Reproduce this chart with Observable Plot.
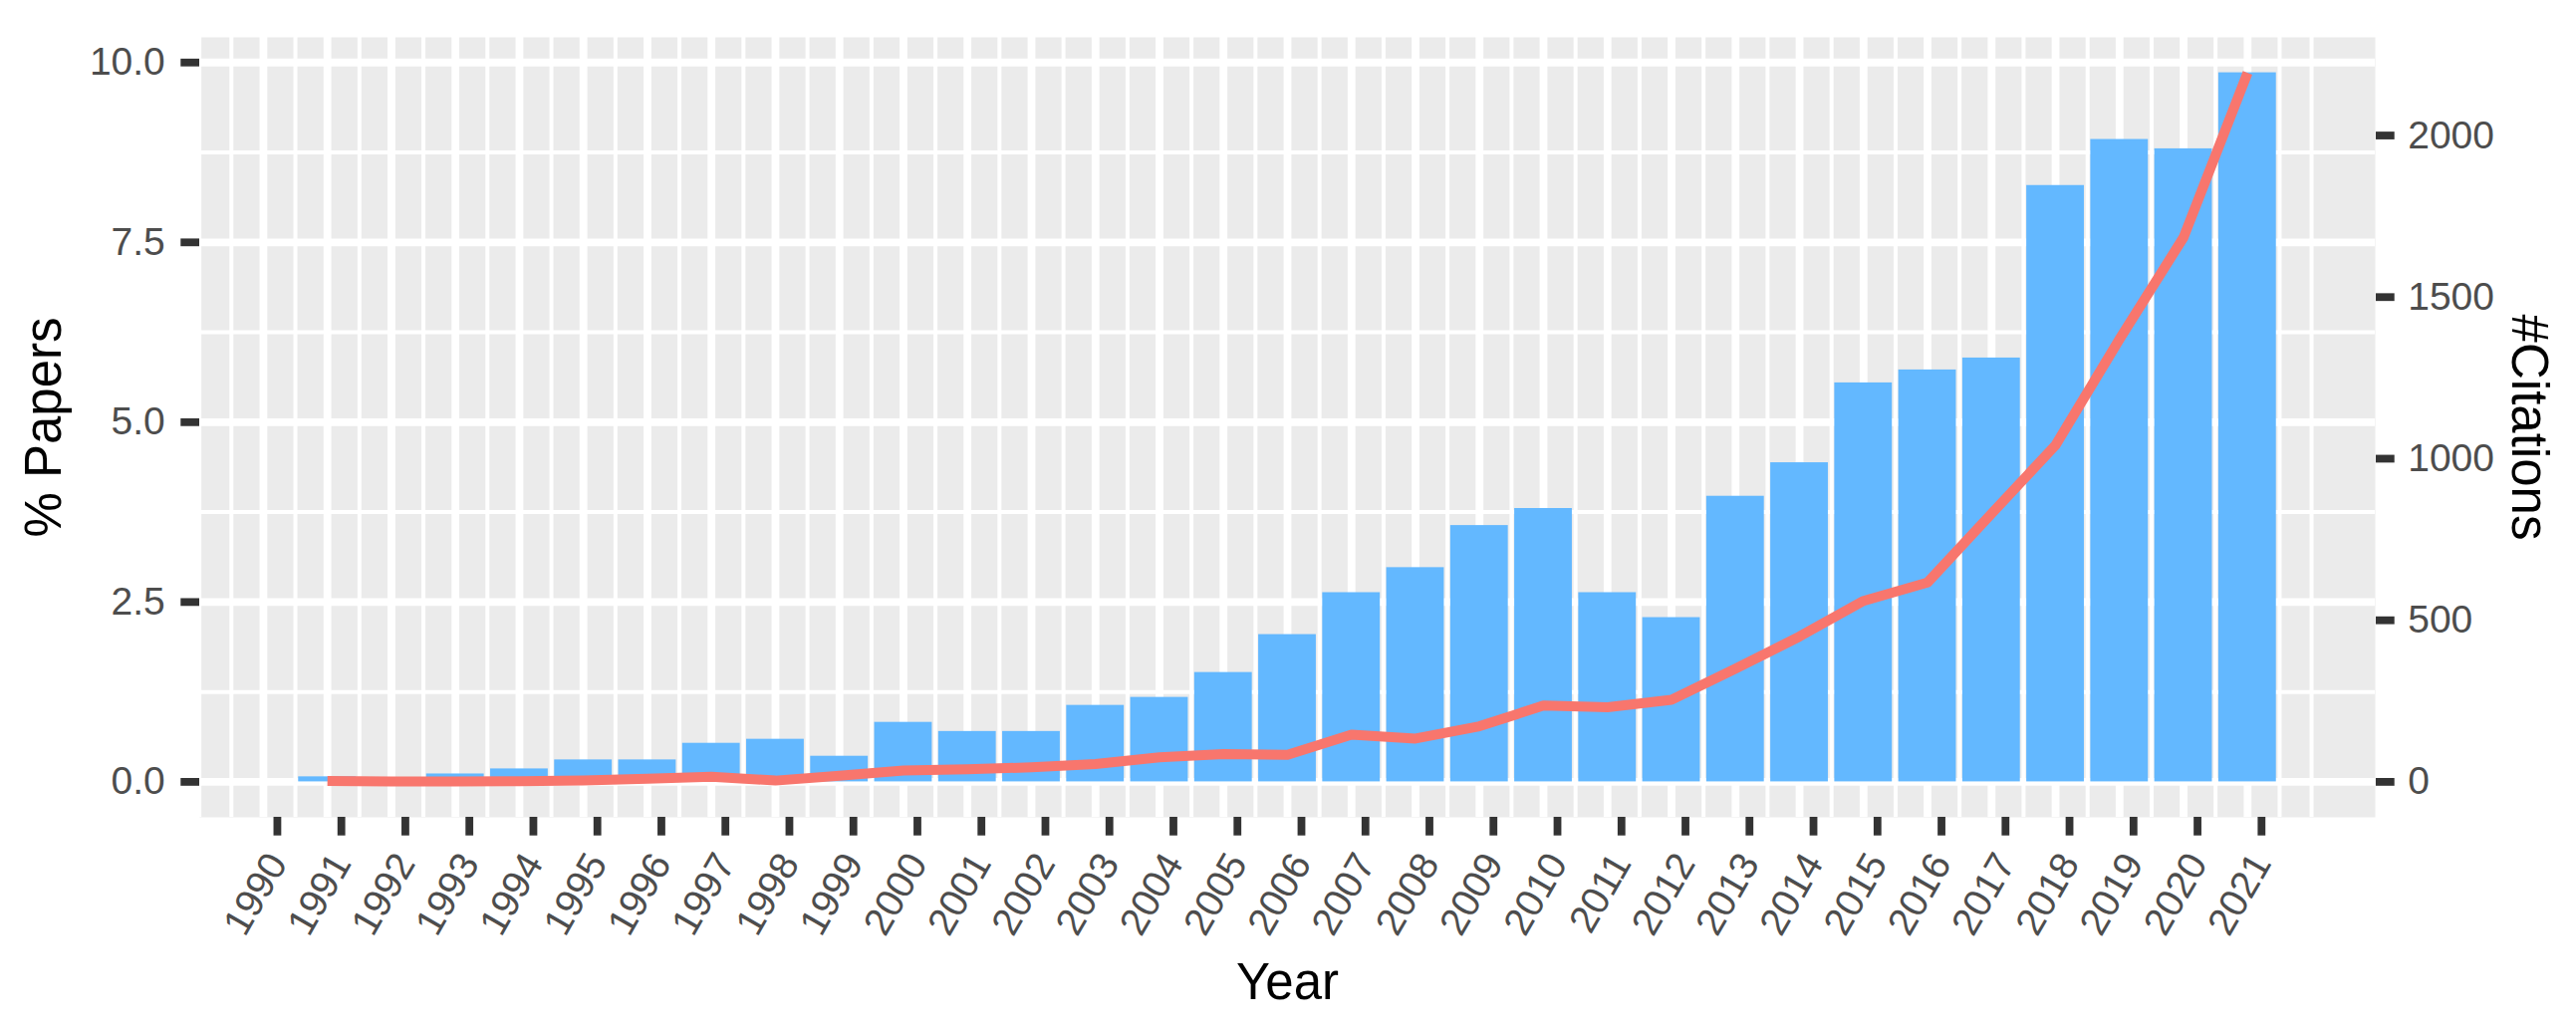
<!DOCTYPE html>
<html>
<head>
<meta charset="utf-8">
<script src="https://cdn.jsdelivr.net/npm/d3@7"></script>
<script src="https://cdn.jsdelivr.net/npm/@observablehq/plot@0.6"></script>
<style>
  html, body { margin: 0; padding: 0; background: white; }
  svg { display: block; }
</style>
</head>
<body>
<div id="chart"></div>
<script>
// ---- data ----
const years = [1991,1992,1993,1994,1995,1996,1997,1998,1999,2000,2001,2002,2003,2004,2005,2006,2007,2008,2009,2010,2011,2012,2013,2014,2015,2016,2017,2018,2019,2020,2021];
const papersPct = [0.07,0.03,0.11,0.18,0.305,0.305,0.536,0.592,0.356,0.827,0.70,0.70,1.063,1.174,1.52,2.047,2.63,2.978,3.563,3.80,2.63,2.283,3.97,4.436,5.546,5.726,5.892,8.29,8.93,8.80,9.857];
const citations = [3,1,1,2,4,10,16,4,19,35,39,45,55,76,86,84,146,134,172,236,231,254,350,450,560,617,830,1042,1370,1685,2194];
const yearTicks = d3.range(1990, 2022);
const papersTicks = [0, 2.5, 5, 7.5, 10];
const citationTicks = [0, 500, 1000, 1500, 2000];

// ---- derived ----
const data = years.map((year, i) => ({year, papers: papersPct[i], citations: citations[i]}));
const factor = d3.max(citations) / d3.max(papersPct);   // secondary-axis scaling
const barHalf = 0.45;
const xlo = d3.min(years) - barHalf, xhi = d3.max(years) + barHalf;
const xpad = 0.05 * (xhi - xlo);
const ymax = d3.max(papersPct), ypad = 0.05 * ymax;
const xMinor = d3.range(yearTicks[0] - 1, yearTicks[yearTicks.length - 1] + 1.01, 0.5);
const yMinor = papersTicks.slice(1).map((t, i) => (t + papersTicks[i]) / 2);

const FONT = "'Liberation Sans', Arial, Helvetica, sans-serif";
const TICK_COLOR = "#333333", LABEL_COLOR = "#4D4D4D";

const chart = Plot.plot({
  width: 2586,
  height: 1034,
  marginLeft: 200,
  marginRight: 202,
  marginTop: 37,
  marginBottom: 214,
  style: {background: "white", fontFamily: FONT, overflow: "visible"},
  x: {type: "linear", domain: [xlo - xpad, xhi + xpad], axis: null},
  y: {domain: [-ypad, ymax + ypad], axis: null},
  marks: [
    Plot.frame({fill: "#EBEBEB", stroke: "none"}),
    Plot.ruleX(xMinor, {stroke: "white", strokeWidth: 4}),
    Plot.ruleY(yMinor, {stroke: "white", strokeWidth: 4}),
    Plot.ruleX(yearTicks, {stroke: "white", strokeWidth: 7.8}),
    Plot.ruleY(papersTicks, {stroke: "white", strokeWidth: 7.8}),
    Plot.rectY(data, {x1: d => d.year - barHalf, x2: d => d.year + barHalf, y: "papers", fill: "#63B8FF"}),
    Plot.line(data, {x: "year", y: d => d.citations / factor, stroke: "#F8766D", strokeWidth: 10, strokeLinejoin: "round", strokeLinecap: "butt"}),
    Plot.axisY(papersTicks, {anchor: "left", tickSize: 18.7, tickPadding: 16, strokeWidth: 7.8, stroke: TICK_COLOR, fill: LABEL_COLOR, fontSize: 39, tickFormat: d3.format(".1f"), label: null}),
    Plot.axisY(citationTicks.map(c => c / factor), {anchor: "right", tickSize: 18.7, tickPadding: 14, strokeWidth: 7.8, stroke: TICK_COLOR, fill: LABEL_COLOR, fontSize: 39, tickFormat: d => String(Math.round(d * factor)), label: null}),
    Plot.axisX(yearTicks, {anchor: "bottom", tickSize: 18.7, tickPadding: 21, tickRotate: -60, strokeWidth: 7.8, stroke: TICK_COLOR, fill: LABEL_COLOR, fontSize: 39, tickFormat: d => String(d), label: null, dx: 14}),
    Plot.text(["Year"], {frameAnchor: "bottom", dy: 166, fontSize: 51, fill: "black", textAnchor: "middle", lineAnchor: "middle"}),
    Plot.text(["% Papers"], {frameAnchor: "left", dx: -156, rotate: -90, fontSize: 51, fill: "black", textAnchor: "middle", lineAnchor: "middle"}),
    Plot.text(["#Citations"], {frameAnchor: "right", dx: 154, rotate: 90, fontSize: 51, fill: "black", textAnchor: "middle", lineAnchor: "middle"})
  ]
});
document.getElementById("chart").appendChild(chart);
</script>
</body>
</html>
